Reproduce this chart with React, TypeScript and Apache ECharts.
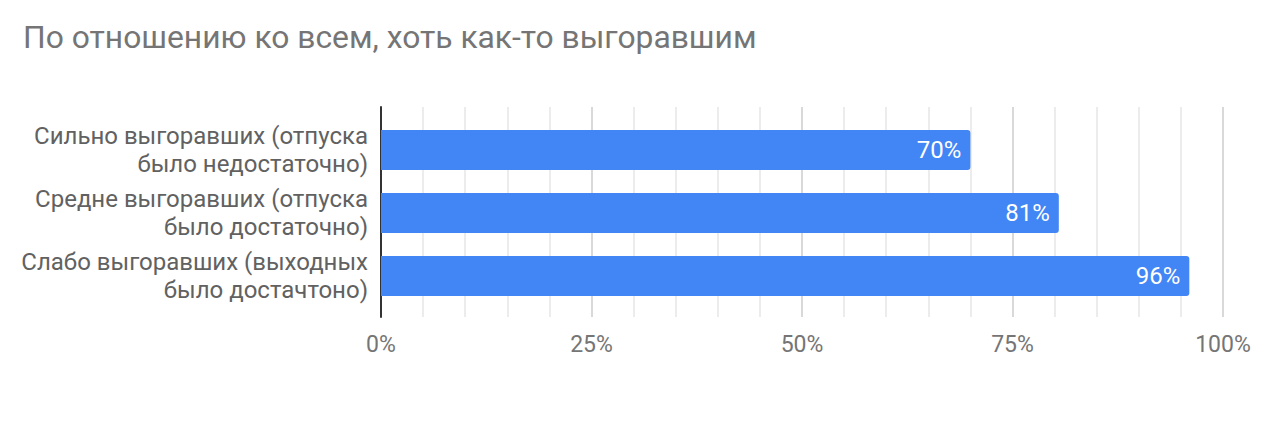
import React, { useEffect, useRef } from "react";
import * as echarts from "echarts";

const title = "По отношению ко всем, хоть как-то выгоравшим";
const categories = [
  "Сильно выгоравших (отпуска\nбыло недостаточно)",
  "Средне выгоравших (отпуска\nбыло достаточно)",
  "Слабо выгоравших (выходных\nбыло достачтоно)",
];
const values = [70, 80.5, 96];
const valueLabels = ["70%", "81%", "96%"];
const tickMin = 0;
const tickMax = 100;
const tickStep = 25;

export default function App() {
  const ref = useRef<HTMLDivElement>(null);
  useEffect(() => {
    document.body.style.margin = "0";
    if (!ref.current) return;
    const chart = echarts.init(ref.current, undefined, { renderer: "svg" });
    const font = "Roboto";
    chart.setOption({
      animation: false,
      backgroundColor: "#ffffff",
      title: {
        text: title,
        left: 18,
        top: 16,
        textStyle: { fontFamily: font, fontSize: 31.8, fontWeight: "normal", color: "#757575" },
      },
      grid: [
        { left: 381, top: 107, width: 842, height: 210, containLabel: false },
        { left: 381, top: 118.5, width: 842, height: 189, containLabel: false },
      ],
      xAxis: [
        {
          gridIndex: 0,
          type: "value",
          min: tickMin,
          max: tickMax,
          interval: tickStep,
          axisLine: { show: false },
          axisTick: { show: false },
          axisLabel: {
            formatter: "{value}%",
            color: "#757575",
            fontFamily: font,
            fontSize: 23,
            margin: 16,
          },
          splitLine: { show: true, lineStyle: { color: "#cccccc", width: 1.5 } },
          minorTick: { show: false, splitNumber: 5 },
          minorSplitLine: { show: true, lineStyle: { color: "#e6e6e6", width: 1.5 } },
        },
        {
          gridIndex: 1,
          type: "value",
          min: tickMin,
          max: tickMax,
          show: false,
        },
      ],
      yAxis: [
        {
          gridIndex: 0,
          type: "category",
          data: categories,
          axisLine: { show: true, lineStyle: { color: "#333333", width: 2 } },
          axisTick: { show: false },
          axisLabel: { show: false },
          splitLine: { show: false },
        },
        {
          gridIndex: 1,
          type: "category",
          inverse: true,
          data: categories,
          axisLine: { show: false },
          axisTick: { show: false },
          axisLabel: {
            color: "#616161",
            fontFamily: font,
            fontSize: 24,
            lineHeight: 28,
            align: "right",
            margin: 13,
          },
        },
      ],
      series: [
        {
          type: "bar",
          xAxisIndex: 1,
          yAxisIndex: 1,
          data: values,
          barWidth: 40,
          itemStyle: { color: "#4285f4", borderRadius: [0, 3, 3, 0] },
          label: {
            show: true,
            position: "insideRight",
            distance: 9,
            color: "#ffffff",
            fontFamily: font,
            fontSize: 24,
            formatter: (p: any) => valueLabels[p.dataIndex],
          },
        },
      ],
    });
    return () => chart.dispose();
  }, []);
  return <div ref={ref} style={{ width: 1280, height: 426 }} />;
}
